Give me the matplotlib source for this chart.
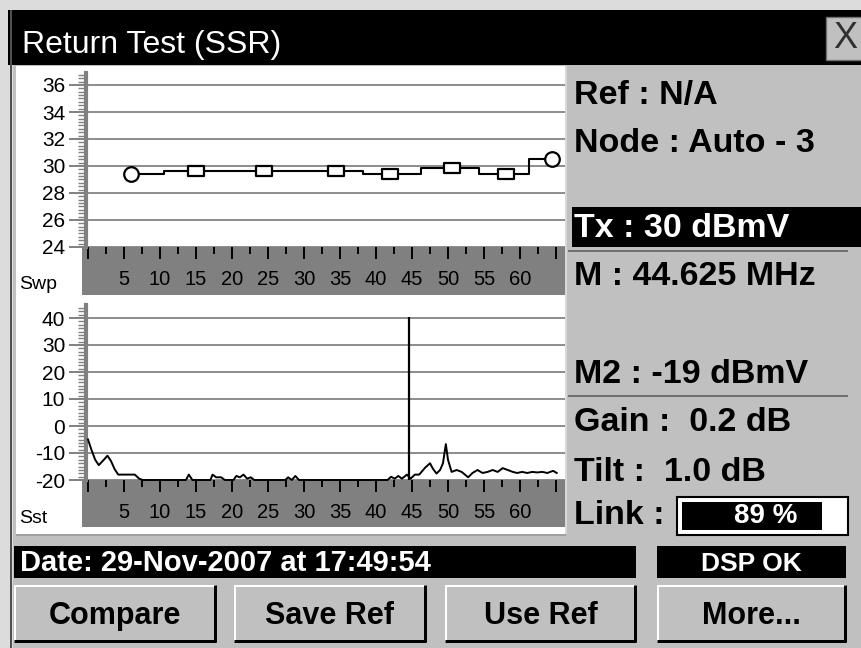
import matplotlib
matplotlib.use('Agg')
import matplotlib.pyplot as plt
from matplotlib.patches import Rectangle
from matplotlib.path import Path
from matplotlib.ticker import MultipleLocator
from matplotlib import font_manager

plt.rcParams['font.family'] = ['Liberation Sans', 'DejaVu Sans']
plt.rcParams['axes.unicode_minus'] = False

# ---- values ----
sweep_freq = [6, 15, 24.5, 34.5, 42, 50.5, 58, 64.5]
sweep_level = [29.4, 29.6, 29.6, 29.6, 29.4, 29.85, 29.4, 30.5]
sweep_shape = ['o', 'r', 'r', 'r', 'r', 'r', 'r', 'o']

spec_freq = [0.0, 0.5, 1.0, 1.5, 2.2, 2.7, 3.2, 3.7, 4.2, 5.5, 6.5, 7.1, 7.6,
             13.6, 14.0, 14.5, 17.0, 17.3, 17.8, 18.5, 19.0, 20.2, 20.6, 21.1,
             21.6, 22.1, 22.6, 23.1, 27.4, 27.8, 28.3, 28.8, 29.3, 41.6, 42.1,
             42.6, 43.1, 43.6, 44.3, 44.8, 45.4, 46.0, 46.8, 47.5, 47.9, 48.4,
             48.9, 49.3, 49.7, 50.0, 50.5, 51.2, 51.9, 52.8, 53.4, 54.1, 54.8,
             55.5, 56.2, 56.9, 57.6, 58.3, 59.0, 59.6, 60.3, 61.0, 61.7, 62.4,
             63.1, 63.8, 64.6, 65.1]
spec_level = [-5, -9, -12.5, -14.5, -12.5, -11, -13, -16, -18, -18, -18, -19.5, -20,
              -20, -18, -20, -20, -18, -19, -19, -20, -20, -18.5, -19,
              -18, -19.5, -19, -20, -20, -19, -20, -18.5, -20, -20, -18.8,
              -19.5, -18.5, -19.5, -18, -19.5, -18, -18, -15.5, -13.8, -15.8, -17.6,
              -16.3, -13.8, -6.7, -12.5, -17, -16.3, -17, -19, -17.4, -16.3, -17.4,
              -17, -16.3, -17, -15.6, -16.3, -17, -17.4, -17, -17.4, -17, -17.2,
              -17, -17.4, -16.6, -17.4]

marker_freq = 44.625
marker_top = 40.5

swp_yticks = [24, 26, 28, 30, 32, 34, 36]
sst_yticks = [-20, -10, 0, 10, 20, 30, 40]
freq_ticks = list(range(0, 70, 5))
freq_labels = ['' if f in (0, 65) else str(f) for f in freq_ticks]

title = 'Return Test (SSR)'
info_text = ['Ref : N/A', 'Node : Auto - 3', 'Tx : 30 dBmV', 'M : 44.625 MHz',
             'M2 : -19 dBmV', 'Gain :  0.2 dB', 'Tilt :  1.0 dB', 'Link :']
link_pct = 89
date_text = 'Date: 29-Nov-2007 at 17:49:54'
status_text = 'DSP OK'
buttons = ['Compare', 'Save Ref', 'Use Ref', 'More...']

# ---- layout in screen pixels ----
W, H = 862, 648
GRAY = '#c0c0c0'
DARK = '#808080'

fig = plt.figure(figsize=(W / 100, H / 100), dpi=100)
fig.set_facecolor('#dcdcdc')

bg = fig.add_axes([0, 0, 1, 1], zorder=-10)
bg.set_xlim(0, W)
bg.set_ylim(H, 0)
bg.axis('off')


def rect(x0, y0, x1, y1, fc, ec='none', lw=0, z=1):
    bg.add_patch(Rectangle((x0, y0), x1 - x0, y1 - y0, facecolor=fc,
                           edgecolor=ec, linewidth=lw, zorder=z))


def line(x0, y0, x1, y1, c, px=2, z=2):
    bg.plot([x0, x1], [y0, y1], color=c, lw=px * 0.72, solid_capstyle='butt', zorder=z)


names = {f.name for f in font_manager.fontManager.ttflist}
narrow = 'Liberation Sans Narrow' in names
title_font = 'Liberation Sans Narrow' if narrow else 'Liberation Sans'
title_size = 26 if narrow else 23

# frame and panels
rect(13, 10, W, H, GRAY)
line(11, 10, 11, H, '#505050', 2)
rect(8, 10, W, 65, 'black')
bg.text(22, 53, title, color='white', fontsize=title_size, family=title_font,
        va='baseline', ha='left')
rect(826, 17, W + 2, 60, GRAY, ec='#707070', lw=1)
bg.text(845, 39, 'X', color='#303030', fontsize=26, ha='center', va='center')

rect(16, 66, 566, 534, 'white')
line(16, 535, 566, 535, '#a0a0a0', 2)
line(566, 66, 566, 534, '#d8d8d8', 2)

# gray frequency bands under the plots
rect(82, 247, 567, 295, DARK)
rect(82, 480, 567, 527, DARK)
bg.text(19, 289, 'Swp', fontsize=14, va='baseline')
bg.text(19, 523, 'Sst', fontsize=14, va='baseline')


def pix_axes(x0, y0, x1, y1):
    return fig.add_axes([x0 / W, 1 - y1 / H, (x1 - x0) / W, (y1 - y0) / H])


def style_axes(ax, yticks, minor):
    ax.set_facecolor('none')
    for s in ['top', 'right', 'bottom']:
        ax.spines[s].set_visible(False)
    ax.spines['left'].set_color(DARK)
    ax.spines['left'].set_linewidth(3)
    ax.set_xlim(-2 / 7.2, (565 - 88) / 7.2)
    ax.set_yticks(yticks)
    ax.yaxis.set_minor_locator(MultipleLocator(minor))
    ax.set_xticks(freq_ticks)
    ax.set_xticklabels(freq_labels)
    ax.set_xticks([f + 2.5 for f in freq_ticks[:-1]], minor=True)
    ax.tick_params(axis='y', which='major', length=12, width=1.4, color=DARK,
                   labelsize=15, pad=3)
    ax.tick_params(axis='y', which='minor', length=6, width=1, color=DARK)
    ax.tick_params(axis='x', which='major', length=8.6, width=1.4, color='black',
                   labelsize=14.5, pad=8)
    ax.tick_params(axis='x', which='minor', length=5, width=1.4, color='black')
    ax.grid(axis='y', which='major', color='#8c8c8c', lw=1.4)
    ax.set_axisbelow(True)


# sweep plot
ax1 = pix_axes(86, 73, 565, 247)
ax1.set_ylim(24, 24 + 174 / 13.5)
style_axes(ax1, swp_yticks, 0.25)
ax1.plot(sweep_freq, sweep_level, color='black', lw=1.5, drawstyle='steps-mid', zorder=3)
box = Path([(-1.5, -1), (1.5, -1), (1.5, 1), (-1.5, 1), (-1.5, -1)], closed=True)
for f, lv, shp in zip(sweep_freq, sweep_level, sweep_shape):
    ax1.plot(f, lv, marker='o' if shp == 'o' else box, ms=10.5 if shp == 'o' else 11.5,
             mfc='white', mec='black', mew=1.6, ls='none', zorder=4)

# spectrum plot
ax2 = pix_axes(86, 305, 565, 480)
ax2.set_ylim(-20, -20 + 175 / 2.7)
style_axes(ax2, sst_yticks, 1.25)
ax2.plot(spec_freq, spec_level, color='black', lw=1.4, clip_on=False, zorder=3)
ax2.vlines(marker_freq, -20, marker_top, color='black', lw=1.6, zorder=3)

# info panel on the right
info_base = [104, 152, 237, 285, 383, 431, 481, 524]
rect(572, 207, W, 247, 'black')
line(568, 251, 848, 251, '#707070', 2)
line(568, 396, 848, 396, '#707070', 2)
for txt, yb in zip(info_text, info_base):
    bg.text(574, yb, txt, fontsize=24.5, fontweight='bold', va='baseline',
            color='white' if txt.startswith('Tx') else 'black', zorder=3)

rect(677, 497, 848, 535, 'white', ec='black', lw=1.5)
axl = pix_axes(682, 502, 682 + 140 / 0.89, 530)
axl.barh(0, link_pct, height=1, color='black')
axl.set_xlim(0, 100)
axl.set_ylim(-0.5, 0.5)
axl.axis('off')
axl.text(53, 0, f'{link_pct} %', color='white', fontsize=20, fontweight='bold',
         ha='center', va='center', zorder=5)

# status bar and buttons
rect(14, 546, 636, 578, 'black')
bg.text(20, 571, date_text, color='white', fontsize=21, fontweight='bold', va='baseline')
rect(657, 546, 846, 578, 'black')
bg.text(751, 571, status_text, color='white', fontsize=19, fontweight='bold',
        ha='center', va='baseline')

button_x = [(14, 216), (234, 426), (445, 636), (657, 846)]
for lbl, (x0, x1) in zip(buttons, button_x):
    rect(x0, 585, x1, 642, GRAY)
    line(x0, 586, x1, 586, 'white', 2)
    line(x0 + 1, 585, x0 + 1, 642, 'white', 2)
    line(x0, 641, x1, 641, 'black', 3)
    line(x1 - 1, 585, x1 - 1, 642, 'black', 3)
    bg.text((x0 + x1) / 2, 624, lbl, fontsize=22, fontweight='bold',
            ha='center', va='baseline')

fig.savefig('out.png', dpi=100, facecolor=fig.get_facecolor())
